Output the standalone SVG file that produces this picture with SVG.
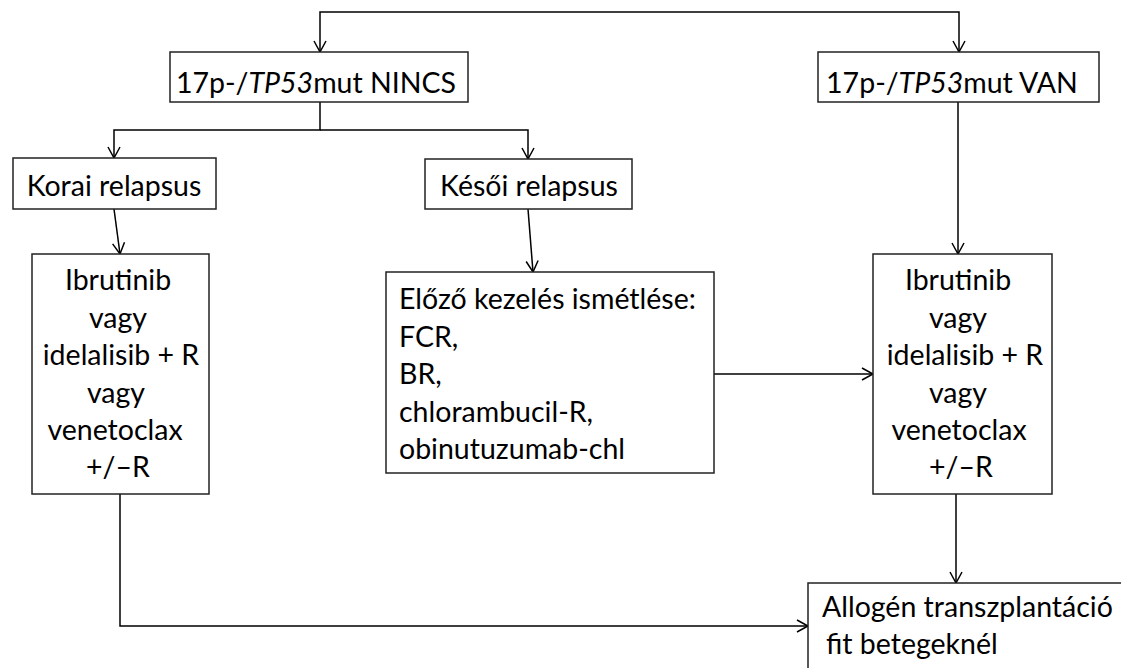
<svg xmlns="http://www.w3.org/2000/svg" width="1121" height="668" viewBox="0 0 1121 668">
<style>
.box{fill:#fff;stroke:#222;stroke-width:1.5}
.t{font-family:Lato,"Liberation Sans",sans-serif;font-size:28.5px;fill:#000}
.c{text-anchor:middle}
.ln{fill:none;stroke:#000;stroke-width:1.5}
</style>
<defs>
<marker id="ah" markerUnits="userSpaceOnUse" markerWidth="14" markerHeight="14" viewBox="0 0 14 14" refX="12" refY="7" orient="auto">
<path d="M1,1 L12,7 L1,13" fill="none" stroke="#000" stroke-width="1.5"/>
</marker>
</defs>
<rect width="1121" height="668" fill="#fff"/>
<g id="connectors">
<path class="ln" d="M640,12 H320 V52" marker-end="url(#ah)"/>
<path class="ln" d="M640,12 H959 V52" marker-end="url(#ah)"/>
<path class="ln" d="M320,102 V130 H114 V158" marker-end="url(#ah)"/>
<path class="ln" d="M320,130 H528 V159" marker-end="url(#ah)"/>
<path class="ln" d="M114,209 L120,254" marker-end="url(#ah)"/>
<path class="ln" d="M528,209 L533,272" marker-end="url(#ah)"/>
<path class="ln" d="M714,374 H873" marker-end="url(#ah)"/>
<path class="ln" d="M958,102 V254" marker-end="url(#ah)"/>
<path class="ln" d="M956,494 V583" marker-end="url(#ah)"/>
<path class="ln" d="M120,494 V626 H808" marker-end="url(#ah)"/>
</g>
<g id="nincs">
<rect class="box" x="170" y="52" width="298" height="50"/>
<text class="t c" x="316" y="93">17p-/<tspan font-style="italic">TP53</tspan>mut NINCS</text>
</g>
<g id="van">
<rect class="box" x="818" y="52" width="281" height="50"/>
<text class="t c" x="952" y="93">17p-/<tspan font-style="italic">TP53</tspan>mut VAN</text>
</g>
<g id="korai">
<rect class="box" x="13" y="158" width="203" height="51"/>
<text class="t c" x="114" y="196">Korai relapsus</text>
</g>
<g id="kesoi">
<rect class="box" x="425" y="159" width="207" height="50"/>
<text class="t c" x="529" y="196">Késői relapsus</text>
</g>
<g id="left-therapy">
<rect class="box" x="32" y="254" width="177" height="240"/>
<text class="t c" x="118" y="290">Ibrutinib</text>
<text class="t c" x="118" y="327.5">vagy</text>
<text class="t c" x="121" y="365">idelalisib + R</text>
<text class="t c" x="116" y="402.5">vagy</text>
<text class="t c" x="115" y="440">venetoclax</text>
<text class="t c" x="118" y="477">+/–R</text>
</g>
<g id="previous">
<rect class="box" x="386" y="272" width="328" height="201"/>
<text class="t" x="399" y="309">Előző kezelés ismétlése:</text>
<text class="t" x="399" y="346.5">FCR,</text>
<text class="t" x="399" y="384">BR,</text>
<text class="t" x="399" y="421.5">chlorambucil-R,</text>
<text class="t" x="399" y="459">obinutuzumab-chl</text>
</g>
<g id="right-therapy">
<rect class="box" x="873" y="254" width="179" height="240"/>
<text class="t c" x="958" y="290">Ibrutinib</text>
<text class="t c" x="958" y="327.5">vagy</text>
<text class="t c" x="965" y="365">idelalisib + R</text>
<text class="t c" x="958" y="402.5">vagy</text>
<text class="t c" x="959" y="440">venetoclax</text>
<text class="t c" x="961" y="477">+/–R</text>
</g>
<g id="allogen">
<rect class="box" x="808" y="583" width="330" height="100"/>
<text class="t" x="822" y="617">Allogén transzplantáció</text>
<text class="t" x="826" y="654">fit betegeknél</text>
</g>
</svg>
